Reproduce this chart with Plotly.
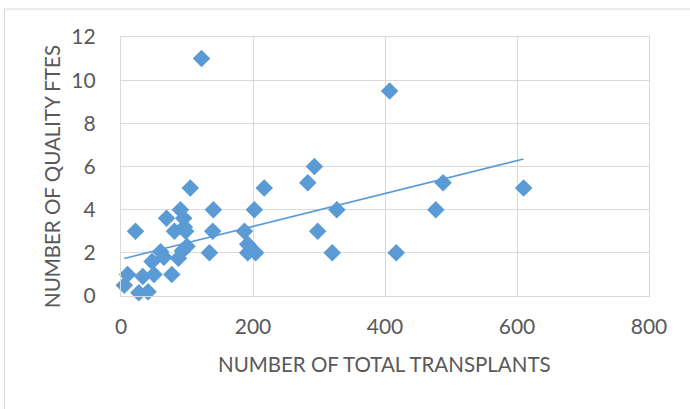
import plotly.graph_objects as go

# Centres: total transplants vs. quality FTEs
total_transplants = [5, 10, 22, 27, 33, 41, 47, 50, 60, 65, 69, 77, 81, 87, 90,
                     93, 95, 96, 98, 100, 105, 122, 134, 139, 140, 187, 192, 192,
                     204, 202, 217, 283, 293, 298, 320, 327, 407, 417, 477, 488, 610]
quality_ftes = [0.5, 1, 3, 0.15, 0.9, 0.2, 1.6, 1, 2.05, 1.8, 3.6, 1, 3, 1.75, 4,
                2.1, 3.6, 3.2, 3, 2.3, 5, 11, 2, 3, 4, 3, 2.4, 2,
                2, 4, 5, 5.25, 6, 3, 2, 4, 9.5, 2, 4, 5.25, 5]

# Linear trendline endpoints (spanning the data range)
trend_x = [5, 610]
trend_y = [1.74, 6.35]

x_ticks = [0, 200, 400, 600, 800]
y_ticks = [0, 2, 4, 6, 8, 10, 12]

BLUE = "#5B9BD5"
GRID = "#D9D9D9"
TEXT = "#595959"
FONT = "Lato"

fig = go.Figure()
fig.add_trace(go.Scatter(
    x=trend_x, y=trend_y, mode="lines",
    line=dict(color=BLUE, width=1.6), hoverinfo="skip", showlegend=False,
))
fig.add_trace(go.Scatter(
    x=total_transplants, y=quality_ftes, mode="markers",
    marker=dict(symbol="diamond", size=13.5, color=BLUE, line=dict(width=0)),
    cliponaxis=False, showlegend=False,
))

W, H = 690, 409
ML, MR, MT, MB = 121, 41, 37, 113
pw, ph = W - ML - MR, H - MT - MB


def px_x(p):
    return (p - ML) / pw


def px_y(p):
    return (H - MB - p) / ph


fig.update_layout(
    width=W, height=H,
    margin=dict(l=ML, r=MR, t=MT, b=MB, pad=0),
    paper_bgcolor="white", plot_bgcolor="white",
    font=dict(family=FONT, color=TEXT, size=21),
    xaxis=dict(
        range=[0, 800], tickvals=x_ticks, ticktext=[str(v) for v in x_ticks],
        showgrid=True, gridcolor=GRID, gridwidth=1.2, zeroline=False,
        showline=True, linecolor=GRID, linewidth=1.2, mirror=True,
        ticks="", ticklabelstandoff=12, tickfont=dict(size=21, color=TEXT, family=FONT),
    ),
    yaxis=dict(
        range=[0, 12], tickvals=y_ticks, ticktext=[str(v) for v in y_ticks],
        showgrid=True, gridcolor=GRID, gridwidth=1.2, zeroline=False,
        showline=True, linecolor=GRID, linewidth=1.2, mirror=True,
        ticks="", ticklabelstandoff=20, tickfont=dict(size=21, color=TEXT, family=FONT),
    ),
    annotations=[
        dict(text="NUMBER OF TOTAL TRANSPLANTS", xref="paper", yref="paper",
             x=px_x(384.5), y=px_y(364), xanchor="center", yanchor="middle",
             showarrow=False, font=dict(size=20.5, color=TEXT, family=FONT)),
        dict(text="NUMBER OF QUALITY FTES", xref="paper", yref="paper",
             x=px_x(52), y=px_y(177), xanchor="center", yanchor="middle",
             textangle=-90, showarrow=False,
             font=dict(size=20.5, color=TEXT, family=FONT)),
    ],
    shapes=[
        dict(type="rect", xref="paper", yref="paper",
             x0=px_x(4.5), x1=px_x(720), y0=px_y(440), y1=px_y(9),
             line=dict(color=GRID, width=1.2), fillcolor="rgba(0,0,0,0)",
             layer="below"),
    ],
)

fig.write_html("out.html")
